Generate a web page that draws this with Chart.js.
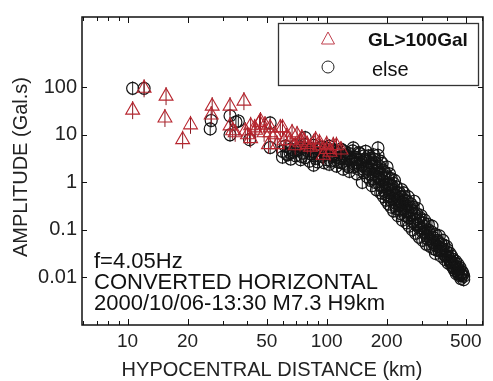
<!DOCTYPE html>
<html><head><meta charset="utf-8">
<script src="https://cdn.jsdelivr.net/npm/chart.js@4/dist/chart.umd.min.js"></script>
<style>html,body{margin:0;padding:0;background:#fff}canvas{display:block}</style>
</head><body>
<canvas id="c" width="493" height="381"></canvas>
<script>
// ---- tick definitions ----
const xTickValues = [10, 20, 50, 100, 200, 500];
const xTickLabels = ['10', '20', '50', '100', '200', '500'];
const xMinorTicks = [6, 7, 8, 9, 30, 40, 60, 70, 80, 90, 300, 400, 600];
const yTickValues = [0.01, 0.1, 1, 10, 100];
const yTickLabels = ['0.01', '0.1', '1', '10', '100'];

// ---- series: GL>100Gal (triangles) ----
const glDist = [12.1, 10.6, 15.6, 15.4, 20.7, 18.9, 26.6, 26.3, 32.7, 38.4, 32.7, 33.7, 34.7, 40, 39,
  41.5, 43.5, 46, 46.5, 48.5, 41.5, 52, 52, 55, 58.5, 60, 61, 51, 56.5, 65.5, 69.5, 71, 73.5, 77, 80,
  86, 92, 100, 92, 100, 108, 96, 112, 44, 49, 63, 67, 75, 83, 88, 104, 118];
const glAmp = [95, 33, 65, 22.6, 16.2, 7.9, 40, 26, 40, 51, 15.4, 12.2, 11, 10, 12,
  15.5, 14, 18, 19.5, 11, 8.3, 14, 11, 10, 14, 14, 7.5, 6.2, 6.2, 7.5, 5.9, 10, 6.8, 7.5, 6.2,
  6.8, 5.9, 6.2, 6.8, 4.9, 5.9, 3.7, 5.9, 12.5, 16, 9, 11, 8.5, 5.5, 7.8, 4.3, 4.8];

// ---- series: else (circles) ----
const elseDist = [10.6, 12.1, 26.3, 26, 32.7, 35, 32.7, 41, 52, 52, 65.5, 78, 36,
  60, 60, 62, 64, 66, 66, 68, 70, 70, 72, 74, 74, 76, 78, 78, 80, 82, 82, 84, 86, 86, 86, 88, 90, 90, 92,
  95, 95, 97, 100, 100, 103, 103, 106, 109, 109, 112, 112, 115, 118, 118, 121, 121, 124, 127, 127, 130, 130,
  133, 136, 136, 139, 142, 142, 145, 145, 148, 151, 151, 154, 154, 157, 157, 160, 160, 163, 166, 166, 169, 169,
  172, 172, 175, 175, 178, 178, 181, 181, 181, 184, 184, 187, 187, 190, 190, 193, 193, 196, 196, 199, 199,
  202, 202, 205, 205, 208, 208, 211, 211, 214, 214, 217, 217, 220, 220, 224, 224, 228, 228, 232, 232,
  236, 236, 240, 240, 244, 244, 248, 248, 252, 252, 256, 256, 260, 260, 265, 265, 270, 270, 275, 275,
  280, 280, 286, 286, 292, 292, 298, 298, 304, 304, 310, 310, 317, 317, 324, 324, 331, 331, 338, 338,
  345, 345, 352, 352, 360, 360, 368, 368, 376, 376, 384, 384, 392, 392, 400, 400, 408, 408, 416, 416,
  424, 424, 432, 432, 440, 440, 448, 448, 456, 456, 464, 464, 472, 472, 480, 480, 488, 488,
  98, 101, 105, 108, 111, 114, 117, 120, 123, 126, 129, 132, 135, 138, 141, 144, 147, 150, 153, 156,
  159, 162, 165, 168, 171, 174, 177, 180, 183, 186, 189, 192, 195, 198, 201, 204, 207, 210, 213, 216,
  219, 222, 226, 230, 234, 238, 242, 246, 250, 254, 258, 262, 268, 272, 278, 283, 289, 295, 301, 307,
  314, 321, 328, 335, 342, 349, 356, 364, 372, 380, 388, 396, 404, 412, 420, 428, 436, 444, 452, 460,
  468, 476, 484, 63, 69, 75, 81, 87, 93];
const elseAmp = [95, 95, 20, 13.3, 25, 18.6, 10, 7.9, 17.8, 5.4, 4.2, 8.7, 19.5,
  4.5, 3.4, 5.8, 3.8, 5.0, 3.1, 4.3, 6.0, 3.6, 4.8, 3.0, 5.5, 4.1, 6.2, 3.3, 4.6, 2.8, 5.2, 3.9, 2.3, 6.0, 4.4, 3.2, 5.1, 2.7, 4.0,
  3.5, 5.5, 2.6, 4.5, 3.0, 5.8, 2.4, 3.8, 4.8, 2.9, 2.2, 3.4, 4.2, 5.0, 2.6, 1.9, 3.6, 4.4, 2.3, 3.1, 1.7, 4.0,
  2.8, 5.3, 2.1, 3.4, 1.5, 2.6, 4.2, 1.9, 3.0, 1.0, 2.3, 3.6, 1.6, 2.0, 4.5, 1.3, 2.8, 1.8, 3.2, 1.1, 2.2, 0.85,
  1.5, 3.8, 2.6, 1.0, 0.7, 1.8, 5.3, 3.7, 1.3, 0.9, 2.2, 0.6, 1.5, 1.1, 2.5, 0.5, 0.8, 1.6, 0.65, 1.0, 0.42,
  0.75, 1.3, 0.5, 0.35, 0.9, 0.6, 0.3, 1.2, 0.45, 0.7, 0.25, 0.95, 0.55, 0.38, 0.8, 0.28, 0.45, 0.2, 0.6, 0.33,
  0.22, 0.5, 0.38, 0.16, 0.27, 0.6, 0.2, 0.42, 0.14, 0.32, 0.5, 0.24, 0.18, 0.12, 0.35, 0.26, 0.15, 0.1, 0.22, 0.4,
  0.13, 0.085, 0.28, 0.17, 0.11, 0.07, 0.2, 0.14, 0.09, 0.06, 0.16, 0.12, 0.075, 0.05, 0.13, 0.1, 0.065, 0.045, 0.09, 0.12,
  0.055, 0.04, 0.08, 0.032, 0.06, 0.045, 0.036, 0.075, 0.05, 0.028, 0.04, 0.06, 0.03, 0.024, 0.045, 0.035, 0.027, 0.02, 0.032, 0.022,
  0.018, 0.028, 0.024, 0.016, 0.02, 0.014, 0.017, 0.012, 0.013, 0.019, 0.015, 0.011, 0.012, 0.0095, 0.011, 0.013, 0.0105, 0.009,
  3.9, 5.2, 2.8, 3.5, 4.6, 2.7, 3.2, 4.7, 2.5, 3.7, 2.1, 3.3, 4.6, 2.4, 3.0, 2.2, 4.0, 2.7, 1.9, 3.1,
  2.2, 3.6, 1.5, 2.5, 1.2, 3.0, 1.4, 2.0, 1.2, 2.8, 0.8, 1.8, 1.2, 0.55, 2.1, 0.9, 1.5, 0.42, 0.85, 0.55,
  1.1, 0.32, 0.6, 0.4, 0.26, 0.7, 0.3, 0.5, 0.25, 0.4, 0.18, 0.3, 0.2, 0.3, 0.16, 0.22, 0.13, 0.18, 0.11, 0.14,
  0.09, 0.065, 0.085, 0.058, 0.07, 0.048, 0.038, 0.055, 0.04, 0.034, 0.048, 0.028, 0.038, 0.025, 0.021, 0.02, 0.017, 0.022, 0.015, 0.012,
  0.016, 0.0115, 0.012, 3.9, 4.7, 3.5, 5.0, 3.6, 4.9];

const legendLabels = ['GL>100Gal', 'else'];
const noteLines = ['f=4.05Hz', 'CONVERTED HORIZONTAL', '2000/10/06-13:30 M7.3 H9km'];
const xTitle = 'HYPOCENTRAL DISTANCE (km)';
const yTitle = 'AMPLITUDE (Gal.s)';

const FONT = '"Liberation Sans", Arial, sans-serif';
const toPts = (xs, ys) => xs.map((x, i) => ({x: x, y: ys[i]}));
const glPts = toPts(glDist, glAmp);
const elsePts = toPts(elseDist, elseAmp);

const decor = {
  id: 'decor',
  afterDraw(chart) {
    const ctx = chart.ctx, ca = chart.chartArea;
    const xs = chart.scales.x, ys = chart.scales.y;
    ctx.save();
    ctx.strokeStyle = '#111';
    ctx.lineWidth = 1;
    // ticks (inward)
    ctx.beginPath();
    xTickValues.forEach(v => {
      const p = Math.round(xs.getPixelForValue(v)) + 0.5;
      ctx.moveTo(p, ca.bottom); ctx.lineTo(p, ca.bottom - 6);
      ctx.moveTo(p, ca.top); ctx.lineTo(p, ca.top + 6);
    });
    xMinorTicks.forEach(v => {
      const p = xs.getPixelForValue(v);
      if (p <= ca.left + 1 || p >= ca.right - 1) return;
      const q = Math.round(p) + 0.5;
      ctx.moveTo(q, ca.bottom); ctx.lineTo(q, ca.bottom - 4);
      ctx.moveTo(q, ca.top); ctx.lineTo(q, ca.top + 4);
    });
    yTickValues.forEach(v => {
      const p = Math.round(ys.getPixelForValue(v)) + 0.5;
      ctx.moveTo(ca.left, p); ctx.lineTo(ca.left + 5, p);
      ctx.moveTo(ca.right, p); ctx.lineTo(ca.right - 5, p);
    });
    ctx.stroke();
    // frame
    ctx.lineWidth = 1.5;
    ctx.strokeRect(ca.left, ca.top, ca.right - ca.left, ca.bottom - ca.top);

    // legend box
    ctx.fillStyle = '#fff';
    ctx.fillRect(278, 23, 201, 63);
    ctx.lineWidth = 1.3;
    ctx.strokeStyle = '#333';
    ctx.strokeRect(278.5, 23.5, 200, 62);
    // legend triangle
    ctx.strokeStyle = '#c0404e';
    ctx.lineWidth = 1;
    ctx.beginPath();
    ctx.moveTo(328, 32); ctx.lineTo(334.5, 44); ctx.lineTo(321.5, 44); ctx.closePath();
    ctx.stroke();
    // legend circle
    ctx.strokeStyle = '#222';
    ctx.beginPath();
    ctx.arc(328, 67, 6, 0, Math.PI * 2);
    ctx.stroke();
    ctx.fillStyle = '#111';
    ctx.textBaseline = 'middle';
    ctx.textAlign = 'left';
    ctx.font = 'bold 19px ' + FONT;
    ctx.fillText(legendLabels[0], 368, 41);
    ctx.font = '20px ' + FONT;
    ctx.fillText(legendLabels[1], 372, 70);

    // annotation
    ctx.font = '22px ' + FONT;
    ctx.fillStyle = '#111';
    ctx.fillText(noteLines[0], 94, 262);
    ctx.fillText(noteLines[1], 94, 283);
    ctx.fillText(noteLines[2], 94, 304);

    // axis titles
    ctx.font = '20px ' + FONT;
    ctx.fillStyle = '#222';
    ctx.textAlign = 'center';
    ctx.fillText(xTitle, 272, 370);
    ctx.translate(21, 167);
    ctx.rotate(-Math.PI / 2);
    ctx.fillText(yTitle, 0, 0);
    ctx.restore();
  }
};

new Chart(document.getElementById('c'), {
  type: 'scatter',
  data: {
    datasets: [
      {label: 'GL>100Gal', data: glPts, pointStyle: 'triangle', radius: 8, borderColor: '#b8262f', backgroundColor: 'rgba(0,0,0,0)', borderWidth: 1.1},
      {label: 'glBar', data: glPts, pointStyle: 'line', rotation: 90, radius: 9, borderColor: '#8a1a22', borderWidth: 1},
      {label: 'else', data: elsePts, pointStyle: 'circle', radius: 6, borderColor: '#141414', backgroundColor: 'rgba(0,0,0,0)', borderWidth: 1.2},
      {label: 'elseBar', data: elsePts, pointStyle: 'line', rotation: 90, radius: 7, borderColor: '#222', borderWidth: 1}
    ]
  },
  options: {
    responsive: false,
    devicePixelRatio: 1,
    animation: false,
    events: [],
    layout: {padding: {top: 13, right: 4, left: 0, bottom: 0}},
    plugins: {legend: {display: false}, tooltip: {enabled: false}},
    scales: {
      x: {
        type: 'logarithmic', position: 'bottom', min: 5.9, max: 610,
        grid: {display: false, drawTicks: false}, border: {display: false},
        afterBuildTicks: s => { s.ticks = xTickValues.map(v => ({value: v})); },
        afterFit: s => { s.height = 56; },
        ticks: {autoSkip: false, maxRotation: 0, padding: 5, color: '#222', font: {family: FONT, size: 19},
          callback: v => { const i = xTickValues.indexOf(v); return i >= 0 ? xTickLabels[i] : ''; }}
      },
      y: {
        type: 'logarithmic', position: 'left', min: 0.001, max: 3000,
        grid: {display: false, drawTicks: false}, border: {display: false},
        afterBuildTicks: s => { s.ticks = yTickValues.map(v => ({value: v})); },
        afterFit: s => { s.width = 82; },
        ticks: {autoSkip: false, padding: 5, color: '#222', font: {family: FONT, size: 20},
          callback: v => { const i = yTickValues.indexOf(v); return i >= 0 ? yTickLabels[i] : ''; }}
      }
    }
  },
  plugins: [decor]
});
</script>
</body></html>
